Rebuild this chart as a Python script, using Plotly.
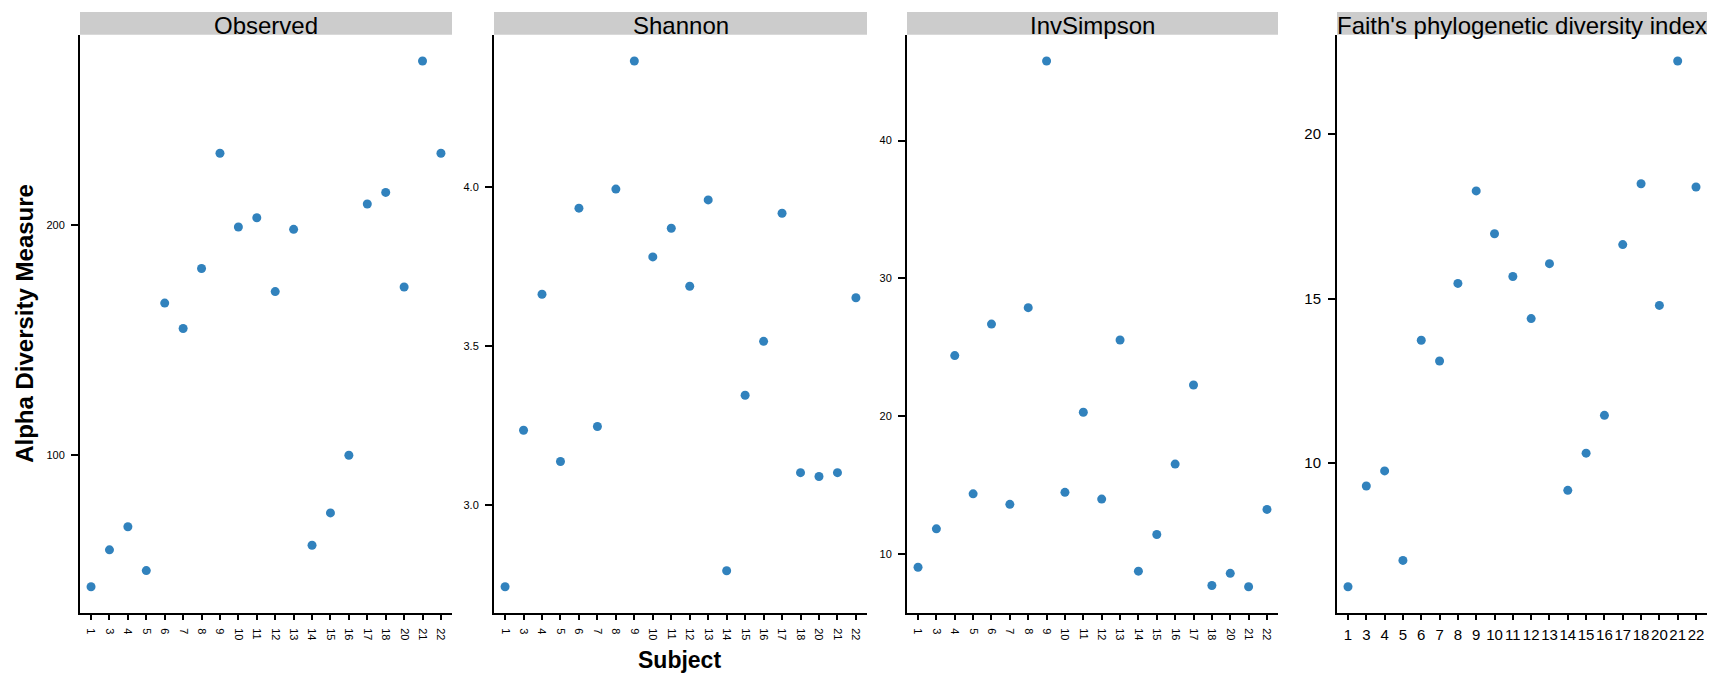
import plotly.graph_objects as go

# Alpha diversity per subject
subjects = ["1", "3", "4", "5", "6", "7", "8", "9", "10", "11", "12", "13",
            "14", "15", "16", "17", "18", "20", "21", "22"]
observed = [43, 59, 69, 50, 166, 155, 181, 231, 199, 203, 171, 198,
            61, 75, 100, 209, 214, 173, 271, 231]
shannon = [2.745, 3.236, 3.663, 3.138, 3.933, 3.248, 3.993, 4.395, 3.780, 3.870,
           3.688, 3.959, 2.795, 3.346, 3.515, 3.917, 3.103, 3.091, 3.103, 3.652]
invsimpson = [9.03, 11.82, 24.39, 14.36, 26.68, 13.60, 27.87, 45.77, 14.47, 20.28,
              13.98, 25.52, 8.75, 11.41, 16.52, 22.26, 7.71, 8.59, 7.62, 13.23]
faith_pd = [6.24, 9.30, 9.76, 7.04, 13.73, 13.10, 15.46, 18.27, 16.97, 15.67,
            14.39, 16.06, 9.17, 10.30, 11.45, 16.64, 18.49, 14.79, 22.22, 18.39]

panel_titles = ["Observed", "Shannon", "InvSimpson", "Faith's phylogenetic diversity index"]
y_ticks = [[100, 200], [3.0, 3.5, 4.0], [10, 20, 30, 40], [10, 15, 20]]
y_ticktext = [["100", "200"], ["3.0", "3.5", "4.0"], ["10", "20", "30", "40"], ["10", "15", "20"]]

W, H = 1712, 677
FONT = "Liberation Sans, Arial, Helvetica, sans-serif"
POINT_COLOR = "#3182BD"

# panel geometry in pixels
panel_x = [(80, 452), (494, 867), (907, 1278), (1337, 1707)]
plot_top, plot_bottom = 34.7, 613.0
strip_top = 12.0


def px_x(v):
    return v / W


def px_y(v):
    return 1 - v / H


series = [observed, shannon, invsimpson, faith_pd]

fig = go.Figure()
layout = dict(
    width=W, height=H,
    margin=dict(l=0, r=0, t=0, b=0),
    paper_bgcolor="white", plot_bgcolor="white",
    showlegend=False,
    font=dict(family=FONT, color="black"),
)

shapes = []
annotations = []
for i, (vals, title) in enumerate(zip(series, panel_titles)):
    n = i + 1
    xa = "x" if n == 1 else f"x{n}"
    ya = "y" if n == 1 else f"y{n}"
    fig.add_trace(go.Scatter(
        x=subjects, y=vals, mode="markers", xaxis=xa, yaxis=ya,
        marker=dict(color=POINT_COLOR, size=9, line=dict(width=0)),
    ))
    lo, hi = min(vals), max(vals)
    pad = (hi - lo) * 0.05
    big = (i == 3)
    x0, x1 = panel_x[i]
    layout[f"xaxis{'' if n == 1 else n}"] = dict(
        domain=[px_x(x0), px_x(x1)], anchor=ya,
        type="category", categoryorder="array", categoryarray=subjects,
        range=[-0.6, len(subjects) - 0.4],
        showline=True, linecolor="black", linewidth=2,
        ticks="outside", ticklen=5, tickwidth=1.5, tickcolor="black",
        showgrid=False, zeroline=False,
        tickangle=0 if big else 90,
        tickfont=dict(size=15 if big else 11, color="black"),
        ticklabelstandoff=2 if big else 6,
        fixedrange=True,
    )
    layout[f"yaxis{'' if n == 1 else n}"] = dict(
        domain=[px_y(plot_bottom), px_y(plot_top)], anchor=xa,
        range=[lo - pad, hi + pad],
        tickvals=y_ticks[i], ticktext=y_ticktext[i],
        showline=True, linecolor="black", linewidth=2,
        ticks="outside", ticklen=7, tickwidth=1.5, tickcolor="black",
        showgrid=False, zeroline=False,
        tickfont=dict(size=15 if big else 11, color="black"),
        ticklabelstandoff=4,
        fixedrange=True,
    )
    # facet strip
    shapes.append(dict(
        type="rect", xref="paper", yref="paper",
        x0=px_x(x0), x1=px_x(x1), y0=px_y(plot_top), y1=px_y(strip_top),
        fillcolor="#CCCCCC", line=dict(width=0), layer="below",
    ))
    annotations.append(dict(
        text=title, xref="paper", yref="paper",
        x=px_x((x0 + x1) / 2), y=px_y(25), xanchor="center", yanchor="middle",
        showarrow=False, font=dict(size=24, color="black", family=FONT),
    ))

# axis titles
annotations.append(dict(
    text="<b>Alpha Diversity Measure</b>", xref="paper", yref="paper",
    x=px_x(25), y=px_y((plot_top + plot_bottom) / 2),
    xanchor="center", yanchor="middle", textangle=-90, showarrow=False,
    font=dict(size=24, color="black", family=FONT),
))
annotations.append(dict(
    text="<b>Subject</b>", xref="paper", yref="paper",
    x=px_x(679), y=px_y(660), xanchor="center", yanchor="middle",
    showarrow=False, font=dict(size=23, color="black", family=FONT),
))

layout["shapes"] = shapes
layout["annotations"] = annotations
fig.update_layout(**layout)

fig.write_html("out.html", config={"displayModeBar": False})
